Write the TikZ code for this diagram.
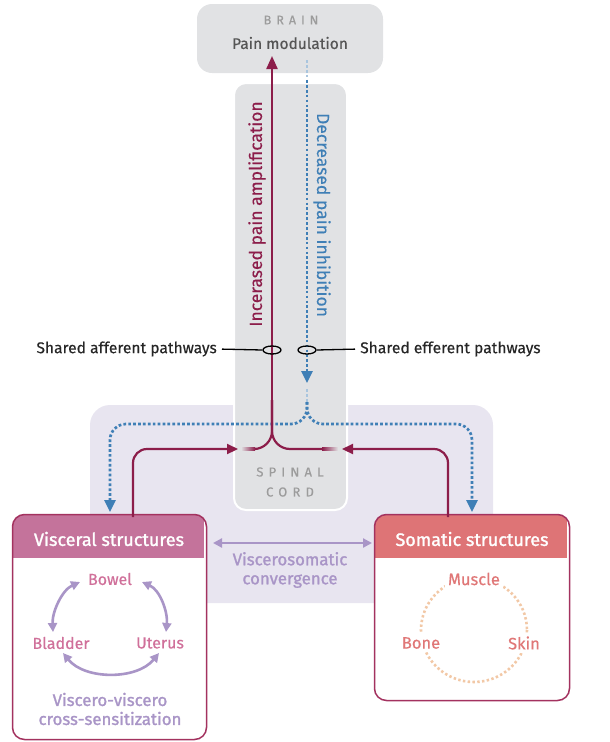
\documentclass[tikz,border=0pt]{standalone}
\usepackage{fontspec}
\setmainfont{Fira Sans}[FakeBold=0.4]
\newfontfamily\medfont{Fira Sans}[FakeBold=1.4]
\newfontfamily\spacedfont{Fira Sans}[LetterSpace=40, FakeBold=0.3]
\usetikzlibrary{arrows.meta,shapes.geometric}
\definecolor{maroon}{HTML}{8C1D4A}
\definecolor{bluel}{HTML}{3F7FB6}
\definecolor{graybox}{HTML}{E1E2E4}
\definecolor{lavbg}{HTML}{E8E5F0}
\definecolor{lav}{HTML}{A995C7}
\definecolor{pinkhead}{HTML}{C4739B}
\definecolor{pinktxt}{HTML}{D0709A}
\definecolor{salmonhead}{HTML}{DE7476}
\definecolor{salmontxt}{HTML}{E07777}
\definecolor{peach}{HTML}{F2C8A6}
\definecolor{boxborder}{HTML}{A3325F}
\definecolor{darkgray}{HTML}{555555}
\definecolor{lightgray}{HTML}{9C9C9C}
\tikzset{
  txt/.style={font=\fontsize{15.6}{17}\selectfont, inner sep=0pt, text=black!85},
  maroonline/.style={draw=maroon, line width=2.2pt},
  redtip/.style={-{Triangle[length=11pt,width=10pt]}},
  bluedot/.style={draw=bluel, line width=2.7pt, dash pattern=on 2.7pt off 2.2pt},
  bluefade/.style={draw=bluel!45, line width=2.7pt, dash pattern=on 2.7pt off 2.2pt},
  bluetip/.style={-{Triangle[length=12pt,width=11pt]}},
  lavarrow/.style={draw=lav, line width=2.6pt, {Triangle[length=9pt,width=9pt]}-{Triangle[length=9pt,width=9pt]}},
  pinklbl/.style={font=\fontsize{16}{17}\selectfont, text=pinktxt, inner sep=1pt},
  somlbl/.style={font=\fontsize{16.5}{17}\selectfont, text=salmontxt, inner sep=3pt, fill=white},
  headlbl/.style={font=\medfont\fontsize{18}{19}\selectfont, text=white, inner sep=0pt},
  lavlbl/.style={font=\medfont\fontsize{16.8}{19}\selectfont, text=lav, inner sep=0pt, align=center},
  ellmark/.style={ellipse, draw=black, line width=1.3pt, minimum width=18pt, minimum height=8pt, inner sep=0pt},
}
\begin{document}
\begin{tikzpicture}[x=1pt,y=-1pt]
\useasboundingbox (0,0) rectangle (610,742);
% background regions
\node[fill=lavbg, rounded corners=20, minimum width=403pt, minimum height=198pt, inner sep=0] (convbg) at (291.5,504) {};
\node[fill=graybox, rounded corners=15, minimum width=186pt, minimum height=69pt, inner sep=0] (brain) at (290,38.5) {};
\node[fill=graybox, draw=white, line width=2pt, rounded corners=12, minimum width=113pt, minimum height=427pt, inner sep=0] (spinal) at (290.5,296.5) {};
% brain texts
\node[font=\spacedfont\fontsize{12.5}{12}\selectfont, text=lightgray, inner sep=0] (brainT) at (291,20) {BRAIN};
\node[font=\fontsize{15.5}{17}\selectfont, text=darkgray, inner sep=0] (painmod) at (290,43) {Pain modulation};
% spinal text
\node[font=\spacedfont\fontsize{13}{20}\selectfont, text=lightgray, inner sep=0, align=center] (spinT) at (290,482) {SPINAL\\CORD};
% rotated texts
\node[rotate=90, font=\fontsize{17.5}{19}\selectfont, text=maroon, inner sep=0] (incT) at (257,214) {Incerased pain amplification};
\node[rotate=-90, font=\fontsize{17.5}{19}\selectfont, text=bluel, inner sep=0] (decT) at (322,215) {Decreased pain inhibition};
% coordinates
\coordinate (bTop) at (307,60);
\coordinate (bA) at (307,80);
\coordinate (bTip) at (307,383);
\coordinate (bB) at (307,389);
\coordinate (bC) at (307,402);
\coordinate (bJ) at (307,424);
\coordinate (bL) at (110,424);
\coordinate (bR) at (472,424);
\coordinate (bLtip) at (110,512);
\coordinate (bRtip) at (472,512);
% blue efferent
\draw[bluefade] (bTop) -- (bA);
\draw[bluedot, bluetip] (bA) -- (bTip);
\draw[bluefade] (bB) -- (bC);
\draw[bluedot, bluetip, rounded corners=16] (bC) -- (bJ) -- (bL) -- (bLtip);
\draw[bluedot, bluetip, rounded corners=16] (bC) -- (bJ) -- (bR) -- (bRtip);
% red afferent
\coordinate (rJ) at (272,449);
\coordinate (rUp) at (272,400);
\coordinate (rL) at (255,449);
\coordinate (rR) at (322,449);
\coordinate (rTip) at (272,56);
\draw[maroonline, rounded corners=18] (rL) -- (rJ) -- (rUp);
\draw[maroonline, rounded corners=18] (rUp) -- (rJ) -- (rR);
\shade[left color=graybox, right color=maroon] (241,447.9) rectangle (rL |- 0,450.1);
\shade[left color=maroon, right color=graybox] (rR |- 0,447.9) rectangle (338,450.1);
\draw[maroonline, -{Triangle[length=13pt,width=11pt]}] (272,410) -- (rTip);
% boxes
\node[draw=white, line width=5pt, fill=white, rounded corners=12, minimum width=189pt, minimum height=220pt, inner sep=0] (visc) at (109.5,627) {};
\node[draw=white, line width=5pt, fill=white, rounded corners=12, minimum width=190pt, minimum height=181pt, inner sep=0] (soma) at (472,607.5) {};
\begin{scope}
\clip[rounded corners=12] (visc.north west) rectangle (visc.south east);
\fill[pinkhead] (visc.north west) rectangle (204,558);
\end{scope}
\begin{scope}
\clip[rounded corners=12] (soma.north west) rectangle (soma.south east);
\fill[salmonhead] (soma.north west) rectangle (567,558);
\end{scope}
\draw[boxborder, line width=1.5pt, rounded corners=12] (visc.north west) rectangle (visc.south east);
\draw[boxborder, line width=1.5pt, rounded corners=12] (soma.north west) rectangle (soma.south east);
\node[headlbl] (viscH) at (109,539) {Visceral structures};
\node[headlbl] (somaH) at (472,539) {Somatic structures};
% arrows into spinal cord
\coordinate (vOut) at (133,517);
\coordinate (sOut) at (448,517);
\coordinate (vTip) at (238,449);
\coordinate (sTip) at (342,449);
\draw[maroonline, redtip, rounded corners=14] (vOut) |- (vTip);
\draw[maroonline, redtip, rounded corners=14] (sOut) |- (sTip);
% convergence
\coordinate (cL) at (213,543);
\coordinate (cR) at (372,543);
\draw[lavarrow] (cL) -- (cR);
\node[lavlbl] (convT) at (290,570) {Viscerosomatic\\convergence};
% visceral contents
\node[pinklbl] (bowel) at (110,579) {Bowel};
\node[pinklbl] (bladder) at (61,643) {Bladder};
\node[pinklbl] (uterus) at (160,643) {Uterus};
\draw[lavarrow] (80,582) .. controls (62,590) and (52,612) .. (53,632);
\draw[lavarrow] (142,582) .. controls (160,590) and (168,612) .. (166,632);
\draw[lavarrow] (63,653) .. controls (85,680) and (137,680) .. (159,653);
\node[lavlbl, font=\medfont\fontsize{16.8}{19}\selectfont] (vvT) at (110,709) {Viscero-viscero\\cross-sensitization};
% somatic contents
\draw[draw=peach, line width=2.6pt, dash pattern=on 2.4pt off 2.4pt] (474,630) ellipse (53 and 52);
\node[somlbl] (muscle) at (474,579) {Muscle};
\node[somlbl] (bone) at (421,643) {Bone};
\node[somlbl] (skin) at (524,643) {Skin};
% shared pathways
\node[ellmark] (affE) at (272,350) {};
\node[ellmark] (effE) at (307,350) {};
\node[txt, anchor=east] (affT) at (217,349) {Shared afferent pathways};
\node[txt, anchor=west] (effT) at (360,349) {Shared efferent pathways};
\draw[line width=1.3pt, shorten <=5pt] (affT.east) -- (affE.west);
\draw[line width=1.3pt, shorten <=5pt] (effT.west) -- (effE.east);
\end{tikzpicture}
\end{document}
